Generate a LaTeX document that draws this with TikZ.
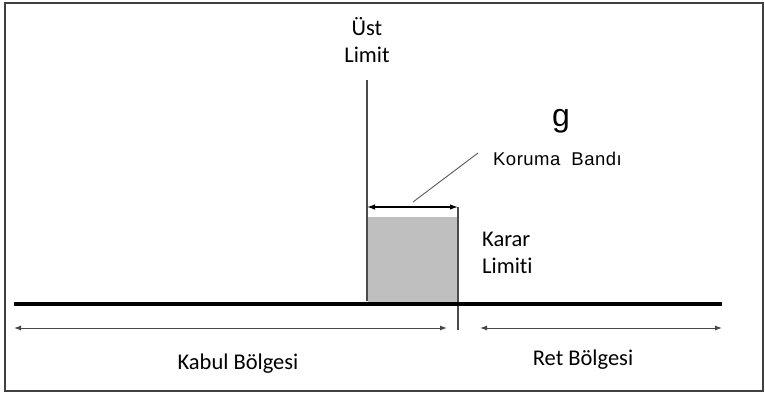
\documentclass[tikz,border=0pt]{standalone}
\usepackage{fontspec}
\setmainfont{Carlito}[Ligatures=NoCommon]
\newfontfamily\arialf{Liberation Sans}
\usetikzlibrary{arrows.meta}
\begin{document}
\begin{tikzpicture}[x=1pt,y=-1pt,
  lbl/.style={font=\fontsize{22.5}{27}\selectfont, align=center, inner sep=0pt, text=black},
  thinarrow/.style={draw=black!72, line width=1pt, {Latex[length=7pt,width=5pt]}-{Latex[length=7pt,width=5pt]}},
  limline/.style={draw=black!70, line width=1.3pt},
]
\useasboundingbox (0,0) rectangle (765,394);
\draw[black!75, line width=1.5pt] (5,3) rectangle (763,391);
% coordinates
\coordinate (ustTop) at (367,80);
\coordinate (ustBot) at (367,301);
\coordinate (kararTop) at (458,207);
\coordinate (kararBot) at (458,330);
\coordinate (baseL) at (14,304);
\coordinate (baseR) at (722,304);
\coordinate (kabL) at (14,328);
\coordinate (kabR) at (447,328);
\coordinate (retL) at (480,328);
\coordinate (retR) at (722,328);
\coordinate (bandL) at (367,207);
\coordinate (bandR) at (458,207);
\coordinate (diagA) at (413,202);
\coordinate (diagB) at (478,153);
% gray box
\fill[black!25] (368,217) rectangle (457,302);
% lines
\draw[limline] (ustTop) -- (ustBot);
\draw[limline] (kararTop) -- (kararBot);
\draw[black, line width=3.5pt] (baseL) -- (baseR);
\draw[thinarrow] (kabL) -- (kabR);
\draw[thinarrow] (retL) -- (retR);
\draw[black, line width=1.2pt, {Latex[length=8pt,width=5.5pt]}-{Latex[length=8pt,width=5.5pt]}] (bandL) -- (bandR);
\draw[black!65, line width=0.9pt] (diagA) -- (diagB);
% labels
\node[lbl] (ust) at (367,40) {Üst\\Limit};
\node[lbl, align=left, anchor=west] (karar) at (482,253) {Karar\\Limiti};
\node[lbl] (kabul) at (238,364) {Kabul Bölgesi};
\node[lbl] (ret) at (583,360) {Ret Bölgesi};
\node[inner sep=0pt, font=\arialf\fontsize{32}{34}\selectfont] (g) at (561,121) {g};
\node[inner sep=0pt, anchor=west, font=\arialf\fontsize{18.5}{20}\selectfont\addfontfeature{LetterSpace=2.5}] (koruma) at (493,159) {Koruma\ \ Bandı};
\end{tikzpicture}
\end{document}
